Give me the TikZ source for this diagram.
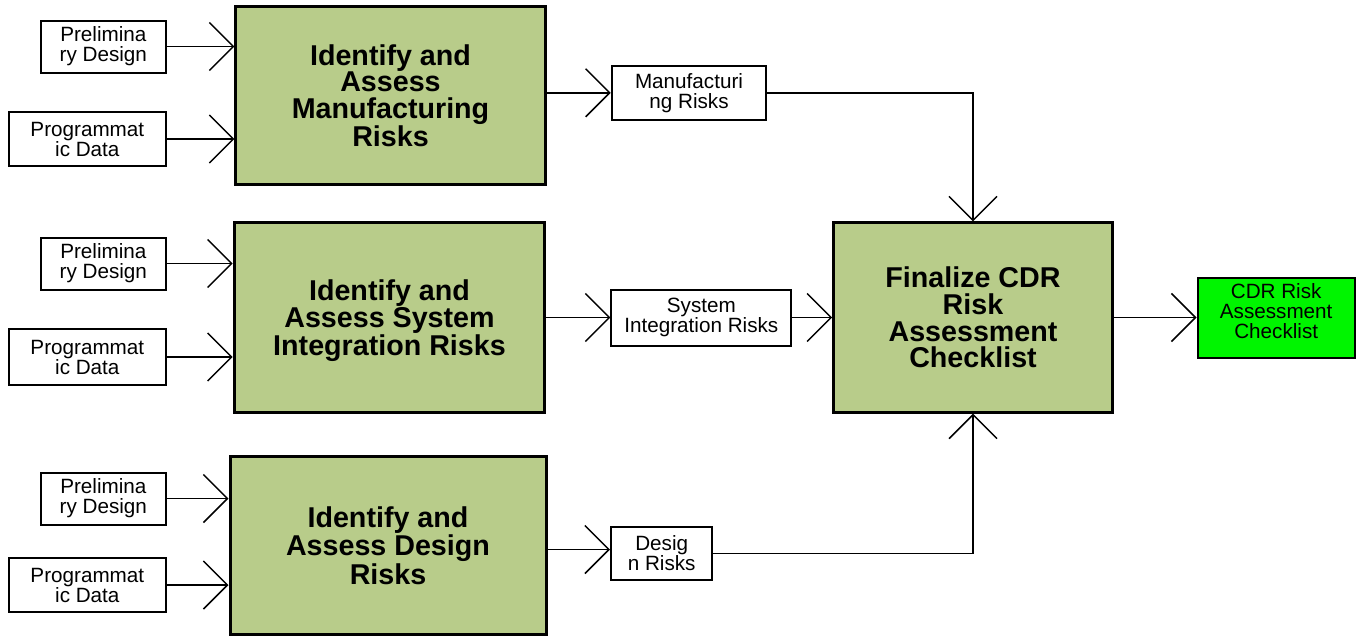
\documentclass[tikz,border=0pt]{standalone}
\usepackage{fontspec}
\setmainfont{Liberation Sans}
\usetikzlibrary{arrows.meta, positioning}
\definecolor{activitygreen}{RGB}{184,204,138}
\definecolor{checkgreen}{RGB}{0,245,0}

\begin{document}
\begin{tikzpicture}[
    x=0.75pt, y=-0.75pt,
    node distance=48pt,
    source/.style = {rectangle, draw, line width=1.5pt, align=center, inner sep=1pt, minimum width=94pt, minimum height=39pt, font=\fontsize{15.5}{15}\selectfont},
    activity/.style = {rectangle, draw, line width=2.25pt, fill=activitygreen, align=center, minimum width=232pt, minimum height=133pt, text depth=-7pt, font=\fontsize{21.5}{20}\selectfont\bfseries},
    product/.style = {rectangle, draw, line width=1.5pt, align=center, inner sep=1pt, minimum height=40pt, font=\fontsize{15.5}{15}\selectfont},
    deliverable/.style = {rectangle, draw, line width=1.5pt, fill=checkgreen, align=center, minimum width=118pt, minimum height=60pt, text depth=9pt, font=\fontsize{15.5}{15}\selectfont},
    >={Straight Barb[length=18pt, width=36pt]}, line width=1.1pt]

    \useasboundingbox (0,0) rectangle (1356,637);

    \node[activity] (M1) at (390.5,95.5) {Identify and\\Assess\\Manufacturing\\Risks};
    \node[activity, minimum height=142pt, minimum width=233pt] (M2) at (389.5,317.5) {Identify and\\Assess System\\Integration Risks};
    \node[activity, minimum height=134pt, minimum width=237pt] (M3) at (388,545.5) {Identify and\\Assess Design\\Risks};

    \node[source, anchor=east] (P1) at (167,46.5) {Prelimina\\ry Design};
    \node[source, anchor=east, minimum width=118pt, minimum height=41pt] (G1) at (167,139) {Programmat\\ic Data};
    \node[source, anchor=east] (P2) at (167,263.5) {Prelimina\\ry Design};
    \node[source, anchor=east, minimum width=118pt, minimum height=42pt] (G2) at (167,357) {Programmat\\ic Data};
    \node[source, anchor=east] (P3) at (167,498.5) {Prelimina\\ry Design};
    \node[source, anchor=east, minimum width=118pt, minimum height=41pt] (G3) at (167,585) {Programmat\\ic Data};

    \node[product, right=48pt of M1, minimum width=116pt, yshift=2pt] (MR) {Manufacturi\\ng Risks};
    \node[product, right=48pt of M2, minimum width=135pt, minimum height=42pt] (SR) {System\\Integration Risks};
    \node[product, anchor=west, minimum width=76pt] (DR) at (610,553.5) {Desig\\n Risks};

    \node[activity, minimum width=209pt, minimum height=142pt] (F) at (973,317.5) {Finalize CDR\\Risk\\Assessment\\Checklist};
    \node[deliverable, right=62pt of F] (C) {CDR Risk\\Assessment\\Checklist};

    \draw[->] (P1.east) -- (P1.east -| M1.west);
    \draw[->] (G1.east) -- (G1.east -| M1.west);
    \draw[->] (P2.east) -- (P2.east -| M2.west);
    \draw[->] (G2.east) -- (G2.east -| M2.west);
    \draw[->] (P3.east) -- (P3.east -| M3.west);
    \draw[->] (G3.east) -- (G3.east -| M3.west);

    \draw[->] (MR.west -| M1.east) -- (MR.west);
    \draw[->] (M2) -- (SR);
    \draw[->] ([yshift=-3pt]M3.east) -- ([yshift=-3pt]M3.east -| DR.west);

    \draw[->] (MR.east) -| (F.north);
    \draw[->] (SR) -- (F);
    \draw[->] (DR.east) -| (F.south);
    \draw[->] (F) -- (C);
\end{tikzpicture}
\end{document}
